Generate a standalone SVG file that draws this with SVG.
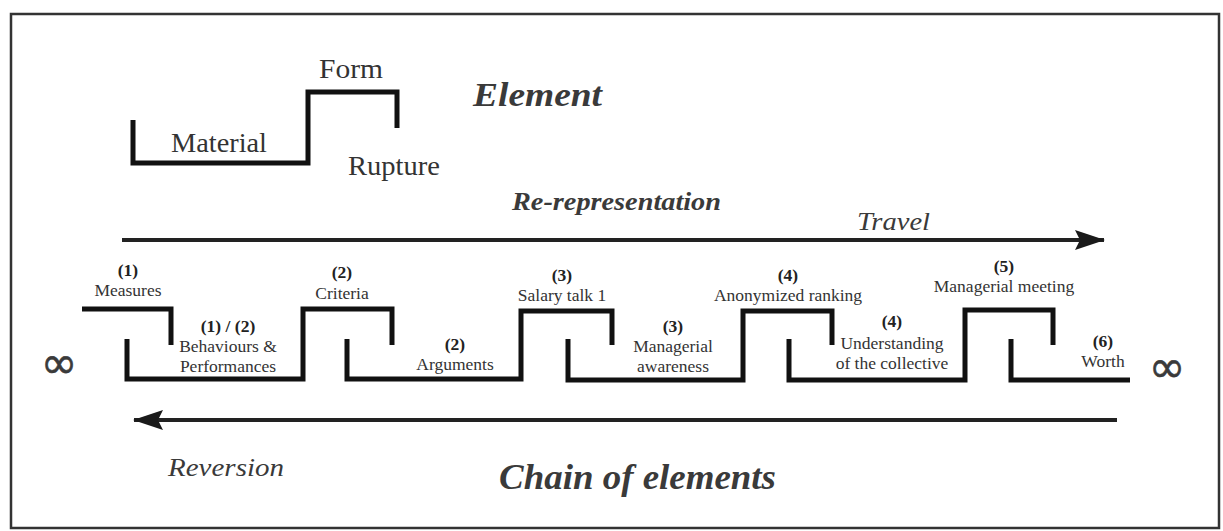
<svg xmlns="http://www.w3.org/2000/svg" width="1223" height="531" viewBox="0 0 1223 531">
  <style>
    text { font-family: "Liberation Serif", "Times New Roman", serif; fill: #333; }
    .lbl { font-size: 17.5px; text-anchor: middle; }
    .num { font-size: 17.5px; font-weight: bold; text-anchor: middle; fill: #222; }
    .big { font-size: 28px; }
    .title { font-weight: bold; font-style: italic; fill: #3a3a3a; }
    .it { font-style: italic; fill: #3a3a3a; }
    .inf { font-family: "DejaVu Sans", sans-serif; font-size: 44px; text-anchor: middle; fill: #3a3a3a; stroke: #3a3a3a; stroke-width: 0.6; }
    .step { fill: none; stroke: #111; stroke-width: 5; stroke-linejoin: miter; stroke-linecap: butt; }
    .flow { fill: none; stroke: #222; stroke-width: 4; }
  </style>
  <defs>
    <marker id="head" viewBox="0 0 30 20" refX="29" refY="10" markerWidth="30" markerHeight="20" markerUnits="userSpaceOnUse" orient="auto">
      <path d="M0,0 L30,10 L0,20 L5,10 Z" fill="#1a1a1a"/>
    </marker>
  </defs>

  <!-- frame -->
  <rect x="11" y="14" width="1208" height="514" fill="#fff" stroke="#333" stroke-width="2.5"/>

  <!-- single element legend -->
  <g id="element">
    <path class="step" d="M133,120 V163 H308 V92 H397 V128"/>
    <text class="big" x="319" y="78" textLength="64" lengthAdjust="spacingAndGlyphs">Form</text>
    <text class="big" x="171" y="152" textLength="96" lengthAdjust="spacingAndGlyphs">Material</text>
    <text class="big" x="348" y="175" textLength="92" lengthAdjust="spacingAndGlyphs">Rupture</text>
    <text class="title" x="473" y="106" font-size="34" textLength="129" lengthAdjust="spacingAndGlyphs">Element</text>
  </g>

  <!-- section titles -->
  <g id="titles">
    <text class="title" x="512" y="210" font-size="26" textLength="209" lengthAdjust="spacingAndGlyphs">Re-representation</text>
    <text class="it" x="857" y="230" font-size="26" textLength="73" lengthAdjust="spacingAndGlyphs">Travel</text>
    <text class="it" x="168" y="476" font-size="26" textLength="116" lengthAdjust="spacingAndGlyphs">Reversion</text>
    <text class="title" x="499" y="489" font-size="36" textLength="277" lengthAdjust="spacingAndGlyphs">Chain of elements</text>
  </g>

  <!-- travel / reversion arrows -->
  <g id="connectors">
    <line class="flow" x1="122" y1="240" x2="1104" y2="240" marker-end="url(#head)"/>
    <line class="flow" x1="1117" y1="420" x2="134" y2="420" marker-end="url(#head)"/>
  </g>

  <!-- chain of elements -->
  <g id="infinity-start">
    <text class="inf" x="59" y="378">∞</text>
  </g>
  <g id="chain-1">
    <path class="step" d="M82,309 H171 V345"/>
    <text class="num" x="128" y="276">(1)</text>
    <text class="lbl" x="128" y="296">Measures</text>
  </g>
  <g id="chain-2">
    <path class="step" d="M127,339 V379 H303 V309 H392 V345"/>
    <text class="num" x="228" y="332">(1) / (2)</text>
    <text class="lbl" x="228" y="352">Behaviours &amp;</text>
    <text class="lbl" x="228" y="372">Performances</text>
    <text class="num" x="342" y="278">(2)</text>
    <text class="lbl" x="342" y="299">Criteria</text>
  </g>
  <g id="chain-3">
    <path class="step" d="M347,339 V379 H521 V311 H612 V345"/>
    <text class="num" x="455" y="350">(2)</text>
    <text class="lbl" x="455" y="370">Arguments</text>
    <text class="num" x="562" y="281">(3)</text>
    <text class="lbl" x="562" y="301">Salary talk 1</text>
  </g>
  <g id="chain-4">
    <path class="step" d="M568,339 V380 H743 V311 H832 V345"/>
    <text class="num" x="673" y="332">(3)</text>
    <text class="lbl" x="673" y="352">Managerial</text>
    <text class="lbl" x="673" y="372">awareness</text>
    <text class="num" x="788" y="281">(4)</text>
    <text class="lbl" x="788" y="301">Anonymized ranking</text>
  </g>
  <g id="chain-5">
    <path class="step" d="M789,339 V380 H965 V310 H1053 V345"/>
    <text class="num" x="892" y="327">(4)</text>
    <text class="lbl" x="892" y="349">Understanding</text>
    <text class="lbl" x="892" y="369">of the collective</text>
    <text class="num" x="1004" y="272">(5)</text>
    <text class="lbl" x="1004" y="292">Managerial meeting</text>
  </g>
  <g id="chain-6">
    <path class="step" d="M1011,339 V380 H1130"/>
    <text class="num" x="1103" y="347">(6)</text>
    <text class="lbl" x="1103" y="367">Worth</text>
  </g>
  <g id="infinity-end">
    <text class="inf" x="1167" y="382">∞</text>
  </g>
</svg>
